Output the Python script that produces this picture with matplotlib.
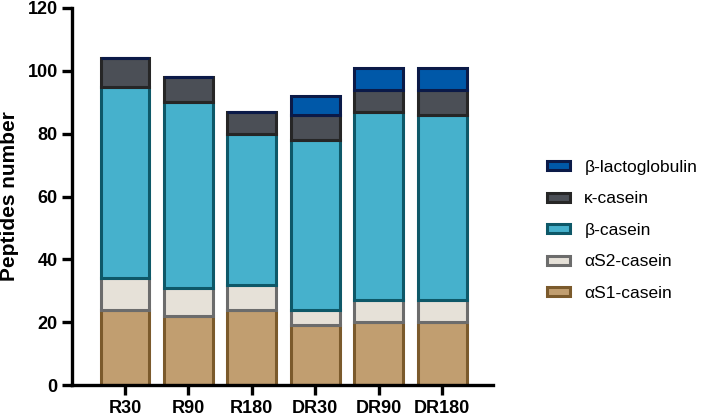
import matplotlib.pyplot as plt
import numpy as np

plt.rcParams['font.family'] = ['Liberation Sans', 'DejaVu Sans']

# 样品
samples = ['R30', 'R90', 'R180', 'DR30', 'DR90', 'DR180']
# 各蛋白的肽段数
as1_casein = [24, 22, 24, 19, 20, 20]
as2_casein = [10, 9, 8, 5, 7, 7]
b_casein = [61, 59, 48, 54, 60, 59]
k_casein = [9, 8, 7, 8, 7, 8]
b_lacto = [0, 0, 0, 6, 7, 7]

series = [
    ('αS1-casein', as1_casein, '#C19E70', '#7B5A2C'),
    ('αS2-casein', as2_casein, '#E6E1D8', '#6C6C6C'),
    ('β-casein', b_casein, '#46B1CC', '#0E5868'),
    ('κ-casein', k_casein, '#4B4F56', '#262626'),
    ('β-lactoglobulin', b_lacto, '#0058A8', '#0B1A48'),
]

fig = plt.figure(figsize=(7.09, 4.19), dpi=100)
ax = fig.add_axes([0.102, 0.081, 0.594, 0.9])

x = np.arange(len(samples))
bottom = np.zeros(len(samples))
handles = []
for name, vals, fc, ec in series:
    b = ax.bar(x, vals, 0.77, bottom=bottom, color=fc, edgecolor=ec,
               linewidth=2.2, label=name)
    handles.append(b)
    bottom += np.array(vals)

ax.set_xlim(-0.83, 5.81)
ax.set_ylim(0, 120)
ax.set_yticks(range(0, 121, 20))
ax.set_xticks(x)
ax.set_xticklabels(samples)
for lab in ax.get_xticklabels() + ax.get_yticklabels():
    lab.set_fontweight('bold')
    lab.set_fontsize(13)
ax.tick_params(width=2.4, length=7.5, color='black', pad=3)
ax.set_ylabel('Peptides number', fontsize=15, fontweight='bold', labelpad=6)
for s in ['top', 'right']:
    ax.spines[s].set_visible(False)
for s in ['left', 'bottom']:
    ax.spines[s].set_linewidth(2.4)

ax.legend(handles[::-1], [h.get_label() for h in handles[::-1]],
          loc='center left', bbox_to_anchor=(1.09, 0.41), frameon=False,
          fontsize=12.5, handlelength=1.35, handleheight=0.45,
          labelspacing=0.95, handletextpad=0.8)

plt.savefig('out.png', dpi=100)
